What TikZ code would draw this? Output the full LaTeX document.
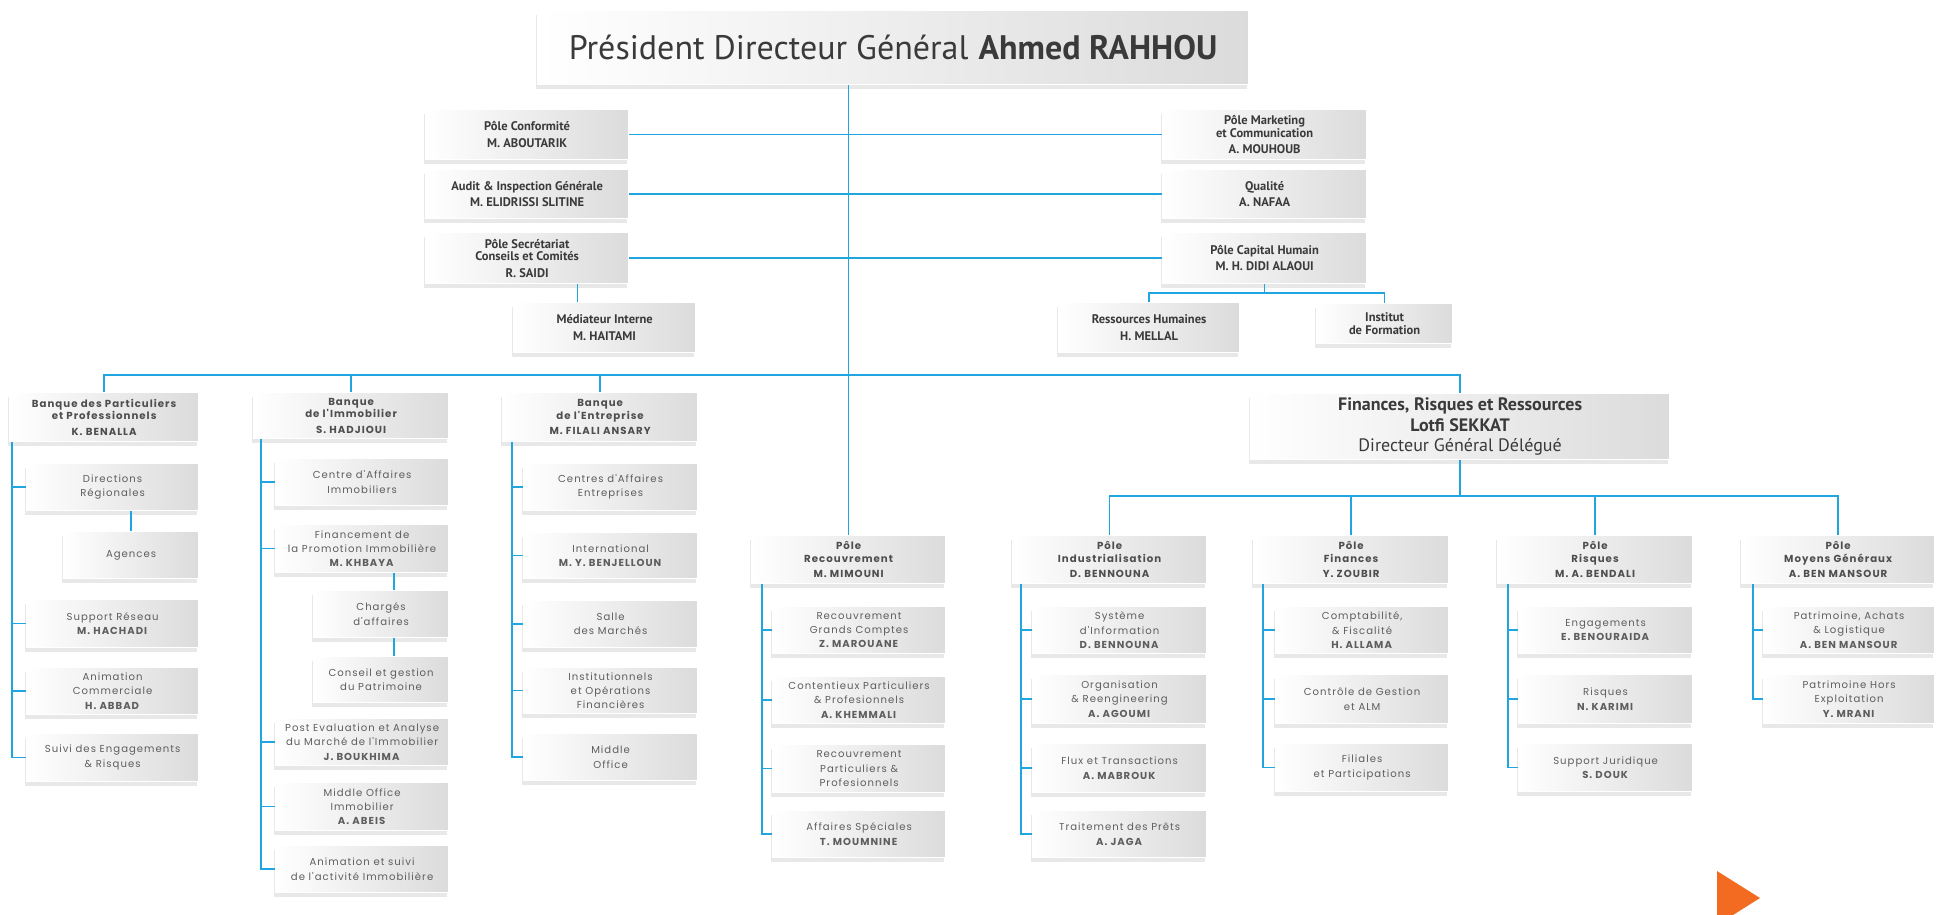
\documentclass[tikz,border=0pt]{standalone}
\usepackage{fontspec}
\setmainfont{PT Sans}
\newfontfamily\geo[LetterSpace=10]{Poppins}
\usetikzlibrary{shadows}
\definecolor{lnc}{HTML}{1FA6E0}
\definecolor{txt}{HTML}{3A3A3A}
\definecolor{subtxt}{HTML}{5E5E5E}
\definecolor{orng}{HTML}{F26B21}
\tikzset{
  basebox/.style={draw=white, line width=1.2pt, left color=white, right color=black!14,
    drop shadow={shadow xshift=-2pt, shadow yshift=-4pt, opacity=0.18},
    inner sep=0pt, align=center, anchor=north west},
  tbox/.style={basebox, text=txt, font=\fontsize{12.5}{12.5}\selectfont\bfseries},
  hbox/.style={basebox, text=txt!90, font=\geo\fontsize{10.2}{12.5}\selectfont\bfseries},
  sbox/.style={basebox, text=subtxt, font=\geo\fontsize{10.1}{14.3}\selectfont},
  fbox/.style={basebox, text=txt, font=\fontsize{18}{20.5}\selectfont\bfseries},
  pbox/.style={basebox, text=txt, font=\fontsize{34}{34}\selectfont},
  ln/.style={draw=lnc, line width=1.3pt},
}
\newcommand\bx[7]{\node[#6, minimum width={(#4-#2)*1pt}, minimum height={(#5-#3)*1pt}] (#1) at (#2,#3) {#7};}
\begin{document}
\begin{tikzpicture}[x=1pt,y=-1pt]
\useasboundingbox (0,0) rectangle (1943,914);
% top
\bx{pdg}{537}{10}{1248}{84}{pbox}{Président Directeur Général\hspace{10pt}\textbf{Ahmed RAHHOU}}
\bx{conf}{425}{109}{628}{159}{tbox}{Pôle Conformité\\[4pt] M. ABOUTARIK}
\bx{audit}{425}{169}{628}{218}{tbox}{Audit \& Inspection Générale\\[4pt] M. ELIDRISSI SLITINE}
\bx{secr}{425}{232}{628}{283}{tbox}{Pôle Secrétariat\\ Conseils et Comités\\[4pt] R. SAIDI}
\bx{med}{513}{302}{695}{352}{tbox}{Médiateur Interne\\[4pt] M. HAITAMI}
\bx{mkt}{1162}{109}{1366}{159}{tbox}{Pôle Marketing\\ et Communication\\[4pt] A. MOUHOUB}
\bx{qual}{1162}{169}{1366}{218}{tbox}{Qualité\\[4pt] A. NAFAA}
\bx{ch}{1162}{232}{1366}{283}{tbox}{Pôle Capital Humain\\[4pt] M. H. DIDI ALAOUI}
\bx{rh}{1058}{302}{1239}{352}{tbox}{Ressources Humaines\\[4pt] H. MELLAL}
\bx{inst}{1316}{303}{1452}{343}{tbox}{Institut\\ de Formation}
% Banque des Particuliers
\bx{bpp}{9}{392}{198}{441}{hbox}{Banque des Particuliers\\ et Professionnels\\[3pt] K. BENALLA}
\bx{dir}{26}{463}{198}{510}{sbox}{Directions\\ Régionales}
\bx{ag}{63}{531}{198}{578}{sbox}{Agences}
\bx{sr}{26}{599}{198}{647}{sbox}{Support Réseau\\ \textbf{M. HACHADI}}
\bx{ac}{26}{667}{198}{714}{sbox}{Animation\\ Commerciale\\ \textbf{H. ABBAD}}
\bx{se}{26}{733}{198}{781}{sbox}{Suivi des Engagements\\ \& Risques}
% Banque de l'Immobilier
\bx{bim}{253}{392}{448}{438}{hbox}{Banque\\ de l'Immobilier\\[3pt] S. HADJIOUI}
\bx{cai}{275}{458}{448}{505}{sbox}{Centre d'Affaires\\ Immobiliers}
\bx{fpi}{275}{524}{448}{572}{sbox}{Financement de\\ la Promotion Immobilière\\ \textbf{M. KHBAYA}}
\bx{chg}{313}{590}{448}{637}{sbox}{Chargés\\ d'affaires}
\bx{cgp}{313}{656}{448}{702}{sbox}{Conseil et gestion\\ du Patrimoine}
\bx{pea}{275}{718}{448}{765}{sbox}{Post Evaluation et Analyse\\ du Marché de l'Immobilier\\ \textbf{J. BOUKHIMA}}
\bx{moi}{275}{782}{448}{830}{sbox}{Middle Office\\ Immobilier\\ \textbf{A. ABEIS}}
\bx{asi}{275}{845}{448}{892}{sbox}{Animation et suivi\\ de l'activité Immobilière}
% Banque de l'Entreprise
\bx{ben}{502}{392}{697}{441}{hbox}{Banque\\ de l'Entreprise\\[3pt] M. FILALI ANSARY}
\bx{cae}{523}{463}{697}{510}{sbox}{Centres d'Affaires\\ Entreprises}
\bx{intl}{523}{532}{697}{578}{sbox}{International\\ \textbf{M. Y. BENJELLOUN}}
\bx{sm}{523}{600}{697}{647}{sbox}{Salle\\ des Marchés}
\bx{iof}{523}{667}{697}{713}{sbox}{Institutionnels\\ et Opérations\\ Financières}
\bx{mo}{523}{733}{697}{780}{sbox}{Middle\\ Office}
% Recouvrement
\bx{rec}{751}{535}{945}{583}{hbox}{Pôle\\ Recouvrement\\[3pt] M. MIMOUNI}
\bx{rgc}{772}{606}{945}{653}{sbox}{Recouvrement\\ Grands Comptes\\ \textbf{Z. MAROUANE}}
\bx{cpp}{772}{676}{945}{723}{sbox}{Contentieux Particuliers\\ \& Profesionnels\\ \textbf{A. KHEMMALI}}
\bx{rpp}{772}{744}{945}{792}{sbox}{Recouvrement\\ Particuliers \&\\ Profesionnels}
\bx{asp}{772}{810}{945}{857}{sbox}{Affaires Spéciales\\ \textbf{T. MOUMNINE}}
% Finances, Risques et Ressources
\bx{frr}{1250}{393}{1669}{459}{fbox}{Finances, Risques et Ressources\\ Lotfi SEKKAT\\ \mdseries Directeur Général Délégué}
\bx{ind}{1012}{535}{1206}{583}{hbox}{Pôle\\ Industrialisation\\[3pt] D. BENNOUNA}
\bx{si}{1032}{606}{1206}{653}{sbox}{Système\\ d'Information\\ \textbf{D. BENNOUNA}}
\bx{org}{1032}{674}{1206}{723}{sbox}{Organisation\\ \& Reengineering\\ \textbf{A. AGOUMI}}
\bx{flux}{1032}{743}{1206}{792}{sbox}{Flux et Transactions\\ \textbf{A. MABROUK}}
\bx{tp}{1032}{810}{1206}{857}{sbox}{Traitement des Prêts\\ \textbf{A. JAGA}}
\bx{fin}{1253}{535}{1448}{583}{hbox}{Pôle\\ Finances\\[3pt] Y. ZOUBIR}
\bx{cf}{1275}{606}{1448}{653}{sbox}{Comptabilité,\\ \& Fiscalité\\ \textbf{H. ALLAMA}}
\bx{cg}{1275}{674}{1448}{723}{sbox}{Contrôle de Gestion\\ et ALM}
\bx{fp}{1275}{743}{1448}{791}{sbox}{Filiales\\ et Participations}
\bx{ris}{1497}{535}{1692}{583}{hbox}{Pôle\\ Risques\\[3pt] M. A. BENDALI}
\bx{eng}{1518}{606}{1692}{653}{sbox}{Engagements\\ \textbf{E. BENOURAIDA}}
\bx{rq}{1518}{674}{1692}{723}{sbox}{Risques\\ \textbf{N. KARIMI}}
\bx{sj}{1518}{743}{1692}{791}{sbox}{Support Juridique\\ \textbf{S. DOUK}}
\bx{mg}{1741}{535}{1934}{583}{hbox}{Pôle\\ Moyens Généraux\\[3pt] A. BEN MANSOUR}
\bx{pal}{1763}{606}{1934}{653}{sbox}{Patrimoine, Achats\\ \& Logistique\\ \textbf{A. BEN MANSOUR}}
\bx{phe}{1763}{674}{1934}{723}{sbox}{Patrimoine Hors\\ Exploitation\\ \textbf{Y. MRANI}}
% connectors
\coordinate (bus) at (0,375);
\coordinate (fbus) at (0,496);
\draw[ln] (rec.north) -- (rec.north |- pdg.south);
\draw[ln] (conf.east) -- (mkt.west);
\draw[ln] (audit.east) -- (qual.west);
\draw[ln] (secr.east) -- (ch.west);
\draw[ln] ([xshift=-27pt]med.north) -- ([xshift=-27pt]med.north |- secr.south);
\draw[ln] (ch.south) -- ([yshift=9pt]ch.south |- rh.north);
\draw[ln] (rh.north) -- ([yshift=9pt]rh.north) -| (inst.north);
\draw[ln] (bpp.north) |- (bus -| frr.north) -- (frr.north);
\draw[ln] (bim.north) -- (bim.north |- bus);
\draw[ln] (ben.north) -- (ben.north |- bus);
\foreach \c in {dir,sr,ac,se} \draw[ln] ([xshift=3pt]bpp.south west) |- (\c.west);
\draw[ln] (ag.north) -- (ag.north |- dir.south);
\foreach \c in {cai,fpi,pea,moi,asi} \draw[ln] ([xshift=8pt]bim.south west) |- (\c.west);
\draw[ln] ([xshift=13pt]chg.north) -- ([xshift=13pt]chg.north |- fpi.south);
\draw[ln] ([xshift=13pt]cgp.north) -- ([xshift=13pt]cgp.north |- chg.south);
\foreach \c in {cae,intl,sm,iof,mo} \draw[ln] ([xshift=10pt]ben.south west) |- (\c.west);
\foreach \c in {rgc,cpp,rpp,asp} \draw[ln] ([xshift=11pt]rec.south west) |- (\c.west);
\draw[ln] (frr.south) -- (frr.south |- fbus);
\draw[ln] (ind.north) |- (fbus -| mg.north) -- (mg.north);
\draw[ln] (fin.north) -- (fin.north |- fbus);
\draw[ln] (ris.north) -- (ris.north |- fbus);
\foreach \c in {si,org,flux,tp} \draw[ln] ([xshift=9pt]ind.south west) |- (\c.west);
\foreach \c in {cf,cg,fp} \draw[ln] ([xshift=10pt]fin.south west) |- (\c.west);
\foreach \c in {eng,rq,sj} \draw[ln] ([xshift=11pt]ris.south west) |- (\c.west);
\foreach \c in {pal,phe} \draw[ln] ([xshift=12pt]mg.south west) |- (\c.west);
% decorative triangle
\fill[orng] (1717,871) -- (1760,898) -- (1717,925) -- cycle;
\end{tikzpicture}
\end{document}
